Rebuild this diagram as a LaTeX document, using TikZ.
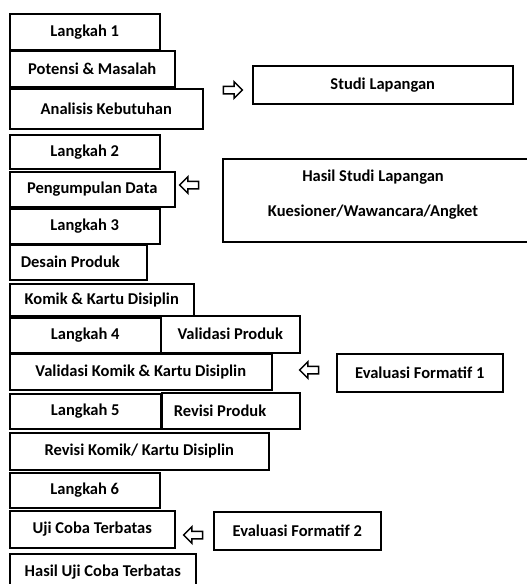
\documentclass[tikz,border=0pt]{standalone}
\usepackage{fontspec}
\setmainfont{Carlito}
\usepackage{tikz}
\usetikzlibrary{shapes.arrows}

\begin{document}
\begin{tikzpicture}[
    x=1pt,y=-1pt,
    font=\bfseries\fontsize{16.5}{20}\selectfont,
    stepbox/.style={draw,line width=1.5pt,anchor=north west,inner sep=0pt,
      align=center},
    leftbox/.style={stepbox,align=flush left,inner xsep=11pt},
    blockarrow/.style={single arrow,draw,line width=1.5pt,fill=white,
      inner sep=3pt,minimum height=19pt,single arrow head extend=4.5pt,
      single arrow head indent=0pt}
  ]
    \useasboundingbox (0,0) rectangle (527,584);
    \clip (0,0) rectangle (527,584);

    % Langkah 1 and 2.
    \node[stepbox,minimum width=150pt,minimum height=36pt] (langkahA) at (9,13)
      {Langkah 1};
    \node[stepbox,minimum width=165pt,minimum height=36pt] (potensi) at (9,50)
      {Potensi \& Masalah};
    \node[stepbox,minimum width=193pt,minimum height=40pt] (analisis) at (9,88)
      {Analisis Kebutuhan};
    \node[stepbox,minimum width=150pt,minimum height=34pt] (langkahB) at (9,134)
      {Langkah 2};
    \node[stepbox,minimum width=165pt,minimum height=35pt] (pengumpulan) at (9,171)
      {Pengumpulan Data};

    % Langkah 3 and 4.
    \node[stepbox,minimum width=150pt,minimum height=35pt] (langkahC) at (9,208)
      {Langkah 3};
    \node[leftbox,text width=115pt,minimum height=35pt] (desain) at (9,244)
      {Desain Produk};
    \node[stepbox,minimum width=184pt,minimum height=32pt] (komik) at (9,283)
      {Komik \& Kartu Disiplin};
    \node[stepbox,minimum width=151pt,minimum height=35pt] (langkahD) at (9,317)
      {Langkah 4};
    \node[stepbox,minimum width=139pt,minimum height=37pt] (validasi) at (160,315)
      {Validasi Produk};
    \node[stepbox,minimum width=262pt,minimum height=36pt] (validasiKomik) at (9,353)
      {Validasi Komik \& Kartu Disiplin};

    % Langkah 5 and 6.
    \node[stepbox,minimum width=151pt,minimum height=35pt] (langkahE) at (9,393)
      {Langkah 5};
    \node[leftbox,inner xsep=12pt,text width=114pt,minimum height=36pt] (revisi)
      at (161,392) {Revisi Produk};
    \node[stepbox,minimum width=259pt,minimum height=37pt] (revisiKomik) at (9,432)
      {Revisi Komik/ Kartu Disiplin};
    \node[stepbox,minimum width=150pt,minimum height=35pt] (langkahF) at (9,472)
      {Langkah 6};
    \node[stepbox,minimum width=165pt,minimum height=37pt] (ujiCoba) at (9,510)
      {Uji Coba Terbatas};
    \node[stepbox,minimum width=186pt,minimum height=36pt] (hasilUji) at (9,553)
      {Hasil Uji Coba Terbatas};

    % Right column.
    \node[stepbox,minimum width=260pt,minimum height=38pt] (studi) at (252,65)
      {Studi Lapangan};
    \node[stepbox,minimum width=320pt,minimum height=83pt] (hasilStudi) at (222,158) {};
    \node[align=center,inner sep=0pt] (hasilStudiText) at (373,195)
      {Hasil Studi Lapangan\\[15pt]Kuesioner/Wawancara/Angket};
    \node[stepbox,minimum width=166pt,minimum height=38pt] (formatifA) at (336,353)
      {Evaluasi Formatif 1};
    \node[stepbox,minimum width=167pt,minimum height=38pt] (formatifB) at (213,511)
      {Evaluasi Formatif 2};

    % Block arrows.
    \node[blockarrow] (arrStudi) at (231,90) {};
    \node[blockarrow,shape border rotate=180] (arrHasil) at (191,185) {};
    \node[blockarrow,shape border rotate=180] (arrFormatifA) at (311,370) {};
    \node[blockarrow,shape border rotate=180] (arrFormatifB) at (195,535) {};
  \end{tikzpicture}
\end{document}
